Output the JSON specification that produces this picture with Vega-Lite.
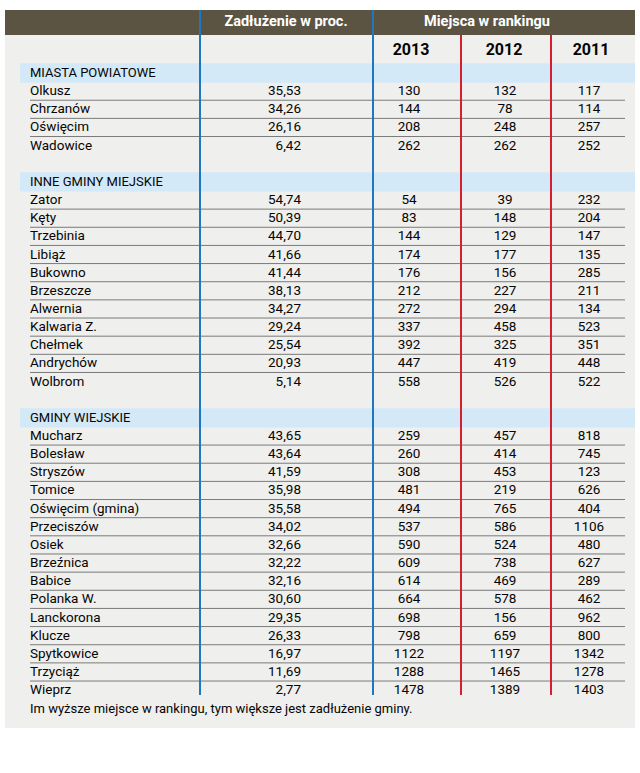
{
  "$schema": "https://vega.github.io/schema/vega-lite/v6.json",
  "width": 640,
  "height": 773,
  "autosize": {"type": "none"},
  "padding": 0,
  "background": "white",
  "config": {
    "view": {"stroke": null},
    "axis": {"disable": true},
    "locale": {"number": {"decimal": ",", "thousands": "\u00a0", "grouping": [3], "currency": ["", " zł"]}},
    "text": {"font": "Roboto", "fontSize": 13.5, "fontWeight": "normal", "color": "#050505", "baseline": "middle"}
  },
  "datasets": {
    "sections": [
      {"grupa": "MIASTA POWIATOWE", "lp": 0},
      {"grupa": "INNE GMINY MIEJSKIE", "lp": 6},
      {"grupa": "GMINY WIEJSKIE", "lp": 19}
    ],
    "rows": [
      {"grupa": "MIASTA POWIATOWE", "lp": 1, "gmina": "Olkusz", "zadluzenie": 35.53, "r2013": 130, "r2012": 132, "r2011": 117},
      {"grupa": "MIASTA POWIATOWE", "lp": 2, "gmina": "Chrzanów", "zadluzenie": 34.26, "r2013": 144, "r2012": 78, "r2011": 114},
      {"grupa": "MIASTA POWIATOWE", "lp": 3, "gmina": "Oświęcim", "zadluzenie": 26.16, "r2013": 208, "r2012": 248, "r2011": 257},
      {"grupa": "MIASTA POWIATOWE", "lp": 4, "gmina": "Wadowice", "zadluzenie": 6.42, "r2013": 262, "r2012": 262, "r2011": 252},
      {"grupa": "INNE GMINY MIEJSKIE", "lp": 7, "gmina": "Zator", "zadluzenie": 54.74, "r2013": 54, "r2012": 39, "r2011": 232},
      {"grupa": "INNE GMINY MIEJSKIE", "lp": 8, "gmina": "Kęty", "zadluzenie": 50.39, "r2013": 83, "r2012": 148, "r2011": 204},
      {"grupa": "INNE GMINY MIEJSKIE", "lp": 9, "gmina": "Trzebinia", "zadluzenie": 44.70, "r2013": 144, "r2012": 129, "r2011": 147},
      {"grupa": "INNE GMINY MIEJSKIE", "lp": 10, "gmina": "Libiąż", "zadluzenie": 41.66, "r2013": 174, "r2012": 177, "r2011": 135},
      {"grupa": "INNE GMINY MIEJSKIE", "lp": 11, "gmina": "Bukowno", "zadluzenie": 41.44, "r2013": 176, "r2012": 156, "r2011": 285},
      {"grupa": "INNE GMINY MIEJSKIE", "lp": 12, "gmina": "Brzeszcze", "zadluzenie": 38.13, "r2013": 212, "r2012": 227, "r2011": 211},
      {"grupa": "INNE GMINY MIEJSKIE", "lp": 13, "gmina": "Alwernia", "zadluzenie": 34.27, "r2013": 272, "r2012": 294, "r2011": 134},
      {"grupa": "INNE GMINY MIEJSKIE", "lp": 14, "gmina": "Kalwaria Z.", "zadluzenie": 29.24, "r2013": 337, "r2012": 458, "r2011": 523},
      {"grupa": "INNE GMINY MIEJSKIE", "lp": 15, "gmina": "Chełmek", "zadluzenie": 25.54, "r2013": 392, "r2012": 325, "r2011": 351},
      {"grupa": "INNE GMINY MIEJSKIE", "lp": 16, "gmina": "Andrychów", "zadluzenie": 20.93, "r2013": 447, "r2012": 419, "r2011": 448},
      {"grupa": "INNE GMINY MIEJSKIE", "lp": 17, "gmina": "Wolbrom", "zadluzenie": 5.14, "r2013": 558, "r2012": 526, "r2011": 522},
      {"grupa": "GMINY WIEJSKIE", "lp": 20, "gmina": "Mucharz", "zadluzenie": 43.65, "r2013": 259, "r2012": 457, "r2011": 818},
      {"grupa": "GMINY WIEJSKIE", "lp": 21, "gmina": "Bolesław", "zadluzenie": 43.64, "r2013": 260, "r2012": 414, "r2011": 745},
      {"grupa": "GMINY WIEJSKIE", "lp": 22, "gmina": "Stryszów", "zadluzenie": 41.59, "r2013": 308, "r2012": 453, "r2011": 123},
      {"grupa": "GMINY WIEJSKIE", "lp": 23, "gmina": "Tomice", "zadluzenie": 35.98, "r2013": 481, "r2012": 219, "r2011": 626},
      {"grupa": "GMINY WIEJSKIE", "lp": 24, "gmina": "Oświęcim (gmina)", "zadluzenie": 35.58, "r2013": 494, "r2012": 765, "r2011": 404},
      {"grupa": "GMINY WIEJSKIE", "lp": 25, "gmina": "Przeciszów", "zadluzenie": 34.02, "r2013": 537, "r2012": 586, "r2011": 1106},
      {"grupa": "GMINY WIEJSKIE", "lp": 26, "gmina": "Osiek", "zadluzenie": 32.66, "r2013": 590, "r2012": 524, "r2011": 480},
      {"grupa": "GMINY WIEJSKIE", "lp": 27, "gmina": "Brzeźnica", "zadluzenie": 32.22, "r2013": 609, "r2012": 738, "r2011": 627},
      {"grupa": "GMINY WIEJSKIE", "lp": 28, "gmina": "Babice", "zadluzenie": 32.16, "r2013": 614, "r2012": 469, "r2011": 289},
      {"grupa": "GMINY WIEJSKIE", "lp": 29, "gmina": "Polanka W.", "zadluzenie": 30.60, "r2013": 664, "r2012": 578, "r2011": 462},
      {"grupa": "GMINY WIEJSKIE", "lp": 30, "gmina": "Lanckorona", "zadluzenie": 29.35, "r2013": 698, "r2012": 156, "r2011": 962},
      {"grupa": "GMINY WIEJSKIE", "lp": 31, "gmina": "Klucze", "zadluzenie": 26.33, "r2013": 798, "r2012": 659, "r2011": 800},
      {"grupa": "GMINY WIEJSKIE", "lp": 32, "gmina": "Spytkowice", "zadluzenie": 16.97, "r2013": 1122, "r2012": 1197, "r2011": 1342},
      {"grupa": "GMINY WIEJSKIE", "lp": 33, "gmina": "Trzyciąż", "zadluzenie": 11.69, "r2013": 1288, "r2012": 1465, "r2011": 1278},
      {"grupa": "GMINY WIEJSKIE", "lp": 34, "gmina": "Wieprz", "zadluzenie": 2.77, "r2013": 1478, "r2012": 1389, "r2011": 1403}
    ],
    "notes": [
      {"tekst": "Im wyższe miejsce w rankingu, tym większe jest zadłużenie gminy.", "lp": 35.05}
    ]
  },
  "layer": [
    {
      "data": {"values": [{}]},
      "mark": {"type": "rect", "color": "#efefed"},
      "encoding": {
        "x": {"datum": 5, "type": "quantitative", "scale": {"domain": [0, 640], "nice": false, "zero": false}},
        "x2": {"datum": 635},
        "y": {"datum": -3.47, "type": "quantitative", "scale": {"domain": [-4.022, 38.567], "reverse": true, "nice": false, "zero": false}},
        "y2": {"datum": 36.09}
      }
    },
    {
      "data": {"values": [{}]},
      "mark": {"type": "rect", "color": "#5b5442"},
      "encoding": {
        "x": {"datum": 5, "type": "quantitative"},
        "x2": {"datum": 635},
        "y": {"datum": -3.47, "type": "quantitative"},
        "y2": {"datum": -2.09}
      }
    },
    {
      "data": {"name": "sections"},
      "mark": {"type": "rule", "color": "#d4e9f7", "strokeWidth": 19.4, "strokeCap": "butt"},
      "encoding": {
        "x": {"datum": 20, "type": "quantitative"},
        "x2": {"datum": 635},
        "y": {"field": "lp", "type": "quantitative"}
      }
    },
    {
      "data": {"name": "rows"},
      "transform": [
        {"joinaggregate": [{"op": "max", "field": "lp", "as": "ostatni"}], "groupby": ["grupa"]},
        {"filter": "datum.lp < datum.ostatni"}
      ],
      "mark": {"type": "rule", "color": "#7a7a7a", "strokeWidth": 1, "yOffset": 9.07},
      "encoding": {
        "x": {"datum": 30, "type": "quantitative"},
        "x2": {"datum": 625},
        "y": {"field": "lp", "type": "quantitative"}
      }
    },
    {
      "data": {"values": [{"kolumna": 200}, {"kolumna": 373}]},
      "mark": {"type": "rule", "color": "#1f77bf", "strokeWidth": 2},
      "encoding": {
        "x": {"field": "kolumna", "type": "quantitative"},
        "y": {"datum": -3.47, "type": "quantitative"},
        "y2": {"datum": 34.27}
      }
    },
    {
      "data": {"values": [{"kolumna": 461}, {"kolumna": 551}]},
      "mark": {"type": "rule", "color": "#d61f2e", "strokeWidth": 2},
      "encoding": {
        "x": {"field": "kolumna", "type": "quantitative"},
        "y": {"datum": -2.09, "type": "quantitative"},
        "y2": {"datum": 34.27}
      }
    },
    {
      "data": {"values": [{}]},
      "mark": {"type": "text", "text": "Zadłużenie w proc.", "color": "white", "fontWeight": "bold", "fontSize": 14.5, "align": "center"},
      "encoding": {
        "x": {"datum": 286, "type": "quantitative"},
        "y": {"datum": -2.8, "type": "quantitative"}
      }
    },
    {
      "data": {"values": [{}]},
      "mark": {"type": "text", "text": "Miejsca w rankingu", "color": "white", "fontWeight": "bold", "fontSize": 14.5, "align": "center"},
      "encoding": {
        "x": {"datum": 487, "type": "quantitative"},
        "y": {"datum": -2.8, "type": "quantitative"}
      }
    },
    {
      "data": {"values": [{"rok": "2013", "srodek": 411}, {"rok": "2012", "srodek": 504}, {"rok": "2011", "srodek": 591}]},
      "mark": {"type": "text", "fontWeight": "bold", "fontSize": 16, "align": "center"},
      "encoding": {
        "x": {"field": "srodek", "type": "quantitative"},
        "y": {"datum": -1.27, "type": "quantitative"},
        "text": {"field": "rok"}
      }
    },
    {
      "data": {"name": "sections"},
      "mark": {"type": "text", "align": "left", "fontSize": 13},
      "encoding": {
        "x": {"datum": 30, "type": "quantitative"},
        "y": {"field": "lp", "type": "quantitative"},
        "text": {"field": "grupa"}
      }
    },
    {
      "data": {"name": "rows"},
      "mark": {"type": "text", "align": "left"},
      "encoding": {
        "x": {"datum": 30, "type": "quantitative"},
        "y": {"field": "lp", "type": "quantitative"},
        "text": {"field": "gmina"}
      }
    },
    {
      "data": {"name": "rows"},
      "mark": {"type": "text", "align": "right"},
      "encoding": {
        "x": {"datum": 301, "type": "quantitative"},
        "y": {"field": "lp", "type": "quantitative"},
        "text": {"field": "zadluzenie", "type": "quantitative", "format": ".2f"}
      }
    },
    {
      "data": {"name": "rows"},
      "mark": {"type": "text", "align": "center"},
      "encoding": {
        "x": {"datum": 409, "type": "quantitative"},
        "y": {"field": "lp", "type": "quantitative"},
        "text": {"field": "r2013", "type": "quantitative", "format": "d"}
      }
    },
    {
      "data": {"name": "rows"},
      "mark": {"type": "text", "align": "center"},
      "encoding": {
        "x": {"datum": 505, "type": "quantitative"},
        "y": {"field": "lp", "type": "quantitative"},
        "text": {"field": "r2012", "type": "quantitative", "format": "d"}
      }
    },
    {
      "data": {"name": "rows"},
      "mark": {"type": "text", "align": "center"},
      "encoding": {
        "x": {"datum": 589, "type": "quantitative"},
        "y": {"field": "lp", "type": "quantitative"},
        "text": {"field": "r2011", "type": "quantitative", "format": "d"}
      }
    },
    {
      "data": {"name": "notes"},
      "mark": {"type": "text", "align": "left", "fontSize": 13},
      "encoding": {
        "x": {"datum": 30, "type": "quantitative"},
        "y": {"field": "lp", "type": "quantitative"},
        "text": {"field": "tekst"}
      }
    }
  ]
}
